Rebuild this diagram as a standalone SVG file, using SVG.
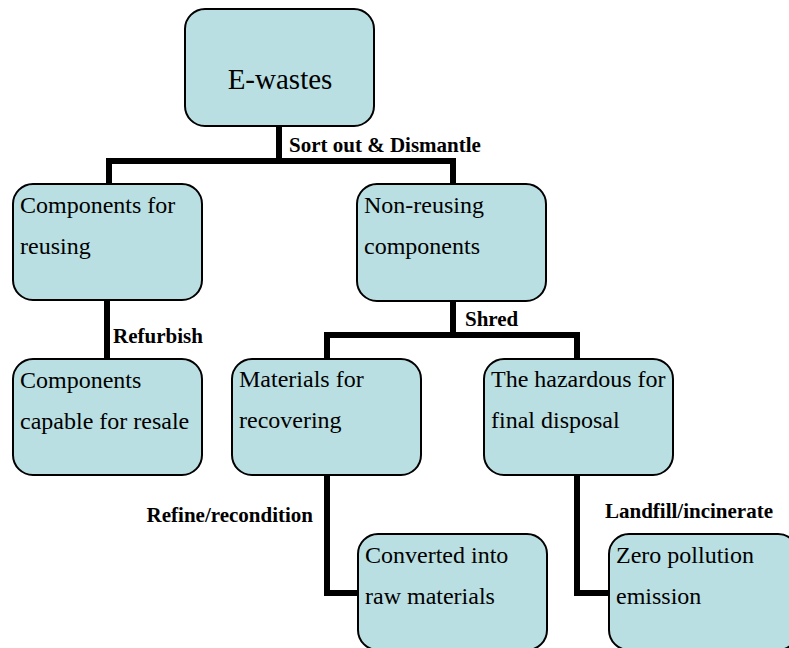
<svg xmlns="http://www.w3.org/2000/svg" width="789" height="648" viewBox="0 0 789 648">
  <style>
    .box { fill: #b9dfe2; stroke: #000; stroke-width: 2; }
    .txt { font-family: "Liberation Serif", "Times New Roman", serif; font-size: 24px; fill: #000; }
    .lbl { font-family: "Liberation Serif", "Times New Roman", serif; font-size: 21px; font-weight: bold; fill: #000; }
    .conn { fill: none; stroke: #000; stroke-width: 6; stroke-linejoin: miter; stroke-linecap: butt; }
  </style>
  <rect width="789" height="648" fill="#fff"/>

  <!-- connectors and their labels -->
  <g id="connectors">
    <path class="conn" d="M279,126 V161 M109,184 V161 H453 V184"/>
    <path class="conn" d="M107,300 V359"/>
    <path class="conn" d="M453,301 V335 M327,359 V335 H577 V359"/>
    <path class="conn" d="M327,475 V593 H358"/>
    <path class="conn" d="M577,475 V593 H609"/>
    <text class="lbl" x="289" y="152">Sort out &amp; Dismantle</text>
    <text class="lbl" x="113" y="343">Refurbish</text>
    <text class="lbl" x="465" y="326">Shred</text>
    <text class="lbl" x="313" y="522" text-anchor="end">Refine/recondition</text>
    <text class="lbl" x="605" y="518">Landfill/incinerate</text>
  </g>

  <g id="ewastes">
    <rect class="box" x="185" y="9" width="189" height="117" rx="20"/>
    <text class="txt" x="280" y="89" text-anchor="middle" style="font-size:29px">E-wastes</text>
  </g>

  <g id="reusing">
    <rect class="box" x="13" y="184" width="189" height="116" rx="20"/>
    <text class="txt" x="20" y="213">Components for</text>
    <text class="txt" x="20" y="254">reusing</text>
  </g>

  <g id="non-reusing">
    <rect class="box" x="357" y="184" width="189" height="117" rx="20"/>
    <text class="txt" x="364" y="213">Non-reusing</text>
    <text class="txt" x="364" y="254">components</text>
  </g>

  <g id="resale">
    <rect class="box" x="13" y="359" width="189" height="116" rx="20"/>
    <text class="txt" x="20" y="388">Components</text>
    <text class="txt" x="20" y="429">capable for resale</text>
  </g>

  <g id="recovering">
    <rect class="box" x="232" y="359" width="189" height="116" rx="20"/>
    <text class="txt" x="239" y="387">Materials for</text>
    <text class="txt" x="239" y="428">recovering</text>
  </g>

  <g id="hazardous">
    <rect class="box" x="484" y="359" width="189" height="116" rx="20"/>
    <text class="txt" x="491" y="387">The hazardous for</text>
    <text class="txt" x="491" y="428">final disposal</text>
  </g>

  <g id="raw-materials">
    <rect class="box" x="358" y="534" width="189" height="116" rx="20"/>
    <text class="txt" x="365" y="563">Converted into</text>
    <text class="txt" x="365" y="604">raw materials</text>
  </g>

  <g id="zero-emission">
    <rect class="box" x="609" y="534" width="189" height="116" rx="20"/>
    <text class="txt" x="616" y="563">Zero pollution</text>
    <text class="txt" x="616" y="604">emission</text>
  </g>
</svg>
